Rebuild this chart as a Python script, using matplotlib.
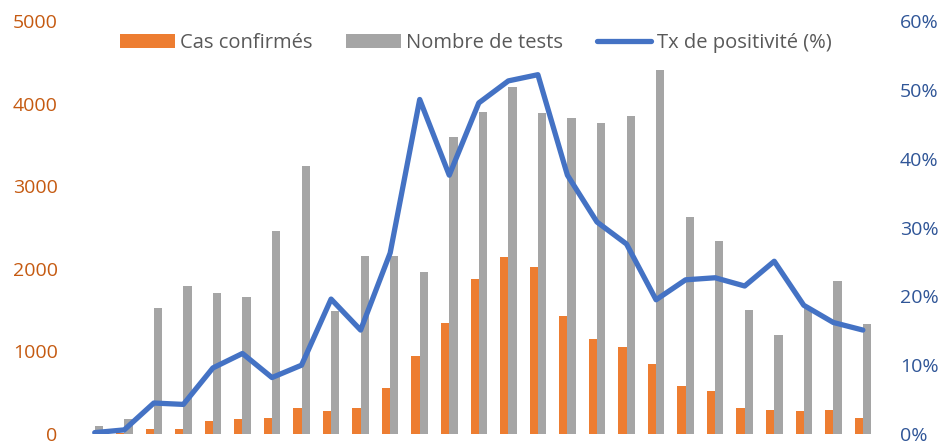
import numpy as np
import matplotlib
matplotlib.use('Agg')
import matplotlib.pyplot as plt
from matplotlib.ticker import FuncFormatter

plt.rcParams['font.family'] = ['Open Sans', 'DejaVu Sans']

# Values (27 periods)
cases = [5, 10, 57, 64, 154, 185, 190, 315, 282, 318, 557, 948, 1347, 1877,
         2143, 2025, 1429, 1154, 1057, 847, 581, 521, 315, 294, 278, 294, 194]
tests = [100, 185, 1520, 1795, 1703, 1662, 2454, 3245, 1493, 2159, 2151, 1961,
         3596, 3902, 4197, 3886, 3826, 3769, 3850, 4403, 2623, 2340, 1505, 1199,
         1540, 1852, 1332]
positivity = [0.2, 0.6, 4.5, 4.3, 9.6, 11.7, 8.2, 10.0, 19.6, 15.1, 26.3, 48.6,
              37.6, 48.1, 51.3, 52.2, 37.6, 30.8, 27.6, 19.5, 22.4, 22.7, 21.5,
              25.1, 18.7, 16.2, 15.1]

x = np.arange(len(cases))
w = 0.28

fig = plt.figure(figsize=(9.44, 4.46), dpi=100)
ax = fig.add_axes([0.0847, 0.0269, 0.845, 0.926])
ax2 = ax.twinx()

b1 = ax.bar(x - w / 2, cases, w, color='#ED7D31', label='Cas confirmés')
b2 = ax.bar(x + w / 2, tests, w, color='#A5A5A5', label='Nombre de tests')
l1, = ax2.plot(x, positivity, color='#4472C4', lw=3.8, solid_capstyle='round',
               label='Tx de positivité (%)')

ax.set_xlim(-0.5, len(cases) - 0.5)
ax.set_ylim(0, 5000)
ax2.set_ylim(0, 60)
ax.set_yticks(np.arange(0, 5001, 1000))
ax2.set_yticks(np.arange(0, 61, 10))
ax2.yaxis.set_major_formatter(FuncFormatter(lambda v, p: f'{v:.0f}%'))
ax.set_xticks([])

for a in (ax, ax2):
    for s in a.spines.values():
        s.set_visible(False)
    a.tick_params(axis='y', length=0, labelsize=14, pad=16)
ax.tick_params(axis='y', labelcolor='#C55A11')
ax2.tick_params(axis='y', labelcolor='#2F5597')

fig.legend(handles=[b1, b2, l1], loc='center', bbox_to_anchor=(0.504, 0.904),
           ncol=3, frameon=False, fontsize=14.5, labelcolor='#595959',
           handlelength=2.7, handletextpad=0.25, columnspacing=1.7)

fig.savefig('out.png', dpi=100)
